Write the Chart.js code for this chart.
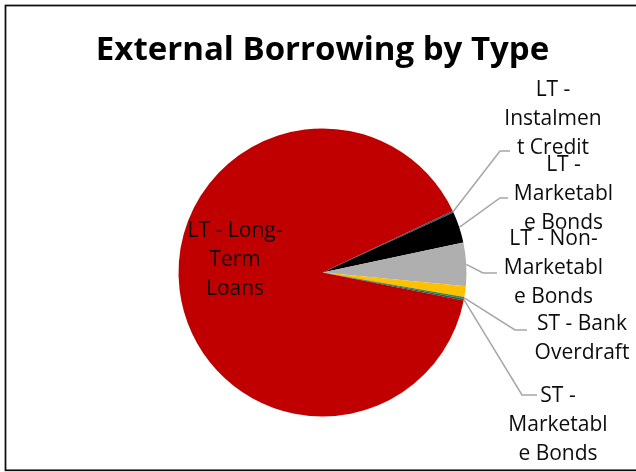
<!DOCTYPE html>
<html>
<head>
<meta charset="utf-8">
<script src="https://cdn.jsdelivr.net/npm/chart.js@4.4.0/dist/chart.umd.min.js"></script>
<style>
  html, body { margin: 0; padding: 0; background: #fff; }
  #wrap { width: 636px; height: 472px; }
</style>
</head>
<body>
<div id="wrap"><canvas id="borrowing" width="636" height="472"></canvas></div>
<script>
  // categories, clockwise from the instalment credit slice
  var categories = ["LT - Instalment Credit", "LT - Marketable Bonds", "LT - Non-Marketable Bonds",
                    "LT - Other", "ST - Bank Overdraft", "ST - Marketable Bonds", "LT - Long-Term Loans"];
  // share of external borrowing, %
  var shares = [0.2, 3.5, 4.85, 1.2, 0.2, 0.2, 89.85];
  var sliceColors = ["#1f5f6e", "#000000", "#afafaf", "#ffc000", "#3d8b3d", "#215968", "#c00000"];

  // wrapped label text per slice (null = no label)
  var labelLines = [
    ["LT -", "Instalmen", "t Credit"],
    ["LT -", "Marketabl", "e Bonds"],
    ["LT - Non-", "Marketabl", "e Bonds"],
    null,
    ["ST - Bank", "Overdraft"],
    ["ST -", "Marketabl", "e Bonds"],
    ["LT - Long-", "Term", "Loans"]
  ];
  // label placement, offsets from the pie centre: text centre / first line, elbow, end of leader
  var labelSpots = [
    { tx: 230.5, ty: -182.5, ex: 177.5, ey: -121.5, endX: 187.5 },
    { tx: 241,   ty: -107.5, ex: 177.5, ey: -74.5,  endX: 185.5 },
    { tx: 231,   ty: -33.5,  ex: 160.5, ey: 0.5,    endX: 174.5 },
    null,
    { tx: 259.5, ty: 52,     ex: 192.5, ey: 57.5,   endX: 204.5 },
    { tx: 235.5, ty: 124,    ex: 199.5, ey: 122.5,  endX: 214.5 },
    { tx: -87.5, ty: -41 }
  ];
  var labelFont = '21px "Open Sans"';
  var lineGap = 29;

  // chart frame (right edge runs off the canvas)
  var framePlugin = {
    id: 'frame',
    beforeDraw: function(chart) {
      var c = chart.ctx;
      c.save();
      c.fillStyle = '#fff';
      c.fillRect(0, 0, chart.width, chart.height);
      c.strokeStyle = '#0d0d0d';
      c.lineWidth = 1.75;
      c.strokeRect(5.5, 5.5, chart.width + 20, 464.8);
      c.restore();
    }
  };

  // data labels with leader lines
  var sliceLabels = {
    id: 'sliceLabels',
    afterDatasetsDraw: function(chart) {
      var c = chart.ctx;
      var arcs = chart.getDatasetMeta(0).data;
      c.save();
      c.font = labelFont;
      c.textAlign = 'center';
      c.textBaseline = 'middle';
      arcs.forEach(function(arc, i) {
        var lines = labelLines[i], spot = labelSpots[i];
        if (!lines || !spot) return;
        var cx = arc.x, cy = arc.y;
        if (spot.ex !== undefined) {
          var mid = (arc.startAngle + arc.endAngle) / 2;
          var px = cx + Math.cos(mid) * arc.outerRadius;
          var py = cy + Math.sin(mid) * arc.outerRadius;
          c.strokeStyle = '#a6a6a6';
          c.lineWidth = 1.5;
          c.beginPath();
          c.moveTo(px, py);
          c.lineTo(cx + spot.ex, cy + spot.ey);
          c.lineTo(cx + spot.endX, cy + spot.ey);
          c.stroke();
        }
        c.fillStyle = '#0d0d0d';
        lines.forEach(function(t, k) {
          c.fillText(t, cx + spot.tx, cy + spot.ty + k * lineGap);
        });
      });
      c.restore();
    }
  };

  var ctx = document.getElementById('borrowing').getContext('2d');
  var borrowingChart = new Chart(ctx, {
    type: 'pie',
    data: {
      labels: categories,
      datasets: [{
        data: shares,
        backgroundColor: sliceColors,
        borderWidth: 0
      }]
    },
    options: {
      responsive: false,
      animation: false,
      rotation: 64.7,
      radius: 144,
      layout: { padding: { left: 9, right: 0, top: 0, bottom: 3.6 } },
      plugins: {
        legend: { display: false },
        tooltip: { enabled: false },
        title: {
          display: true,
          text: 'External Borrowing by Type',
          color: '#000',
          font: { family: '"Open Sans"', size: 33, weight: 'bold', lineHeight: 1.2 },
          padding: { top: 31, bottom: 6 }
        }
      }
    },
    plugins: [framePlugin, sliceLabels]
  });
</script>
</body>
</html>
